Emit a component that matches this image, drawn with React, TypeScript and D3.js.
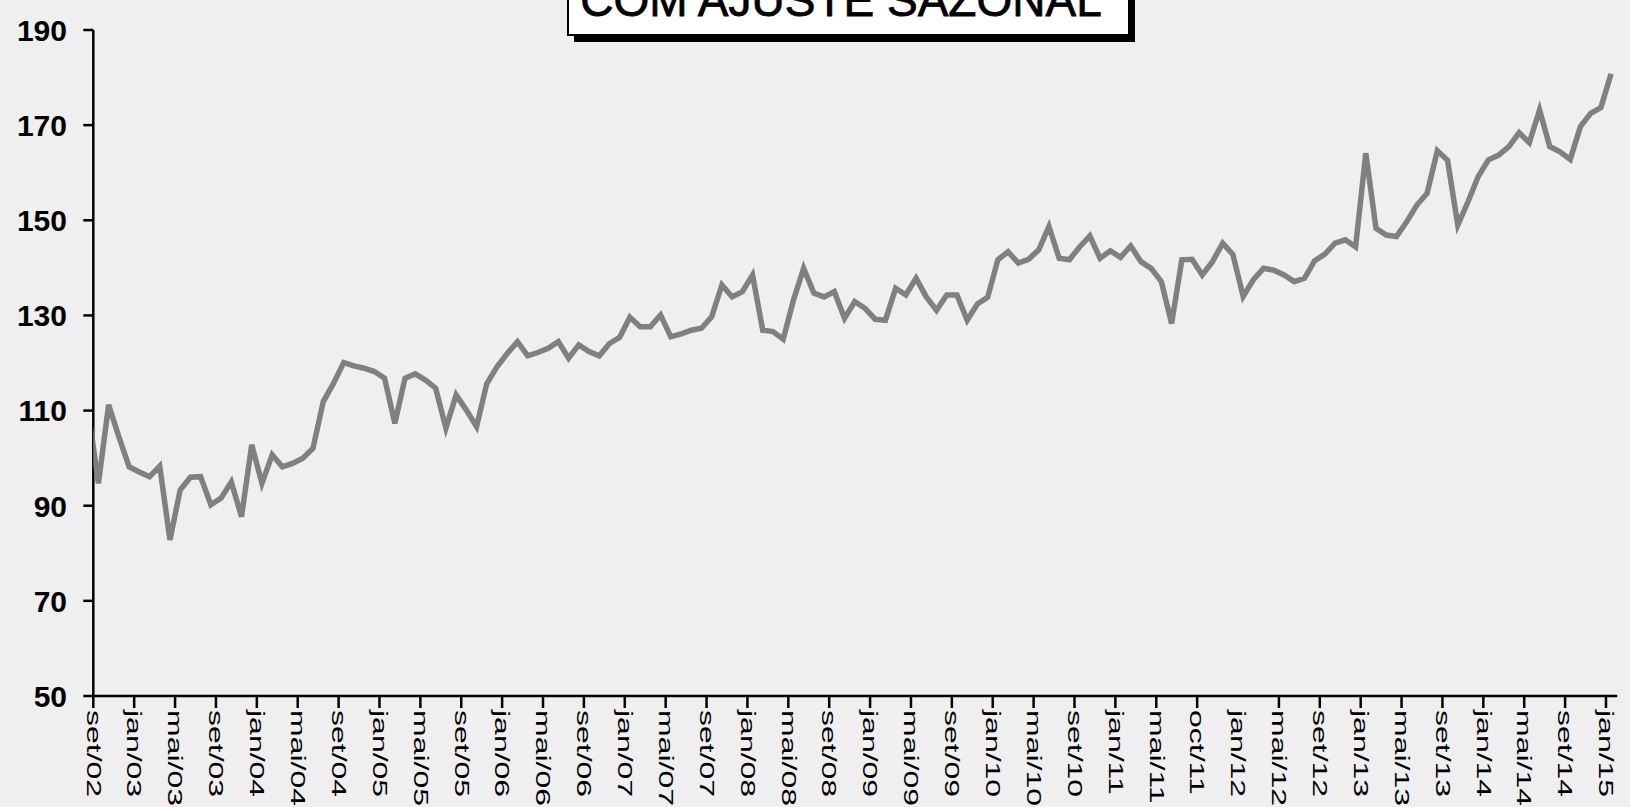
import React from "react";
import * as d3 from "d3";

// rótulos do eixo x (a cada 4 meses, set/02 .. jan/15)
const rotulos = [
  "set/02", "jan/03", "mai/03", "set/03", "jan/04", "mai/04", "set/04", "jan/05",
  "mai/05", "set/05", "jan/06", "mai/06", "set/06", "jan/07", "mai/07", "set/07",
  "jan/08", "mai/08", "set/08", "jan/09", "mai/09", "set/09", "jan/10", "mai/10",
  "set/10", "jan/11", "mai/11", "oct/11", "jan/12", "mai/12", "set/12", "jan/13",
  "mai/13", "set/13", "jan/14", "mai/14", "set/14", "jan/15",
];

// índice com ajuste sazonal, mensal de set/02 a jan/15
const valores = [
  94.7, 111.2, 104.5, 98.2, 97.1, 96.1, 98.3, 82.8, 93.3, 96.0,
  96.1, 90.2, 91.6, 95.0, 87.7, 102.8, 94.7, 100.7, 98.2, 98.9,
  100.0, 102.1, 111.9, 115.7, 120.1, 119.4, 118.9, 118.2, 116.8, 107.3,
  116.8, 117.7, 116.4, 114.7, 106.3, 113.3, 110.1, 106.6, 115.7, 119.2,
  122.0, 124.5, 121.5, 122.2, 123.1, 124.5, 121.0, 123.8, 122.4, 121.5,
  124.1, 125.4, 129.6, 127.6, 127.6, 130.1, 125.5, 126.1, 126.9, 127.3,
  129.7, 136.4, 133.9, 135.0, 138.5, 126.9, 126.6, 125.0, 133.2, 139.9,
  134.7, 133.9, 135.0, 129.4, 132.9, 131.5, 129.2, 129.0, 135.7, 134.3,
  137.8, 133.9, 131.1, 134.3, 134.3, 129.0, 132.4, 133.8, 141.7, 143.4,
  141.0, 141.8, 143.8, 148.7, 142.0, 141.7, 144.4, 146.7, 142.0, 143.6,
  142.2, 144.6, 141.3, 139.9, 137.1, 128.3, 141.7, 141.8, 138.5, 141.3,
  145.2, 142.8, 134.0, 137.5, 139.9, 139.5, 138.5, 137.1, 137.8, 141.5,
  142.9, 145.2, 145.9, 144.4, 164.1, 148.3, 146.9, 146.6, 149.7, 153.2,
  155.7, 164.6, 162.6, 149.0, 153.9, 159.2, 162.7, 163.7, 165.5, 168.4,
  166.3, 173.2, 165.5, 164.4, 162.8, 169.7, 172.5, 173.7, 180.8,
];

// ago/02, fica fora do eixo (cortado na borda)
const valorAnterior = 110;

const yTicks = [50, 70, 90, 110, 130, 150, 170, 190];

const W = 1630, H = 807;
const left = 93.3, right = 1616.2, top = 30, bottom = 696;
const font = "'Liberation Sans', Arial, sans-serif";

export default function App() {
  const n = valores.length;
  const x = d3.scaleLinear().domain([-0.5, n - 0.5]).range([left, right]);
  const y = d3.scaleLinear().domain([50, 190]).range([bottom, top]);

  const pts = [[-1, valorAnterior], ...valores.map((v, i) => [i, v])];
  const line = d3.line<number[]>()
    .x((d) => x(d[0]))
    .y((d) => y(d[1]));

  return (
    <div style={{ position: "fixed", left: 0, top: 0 }}>
      <svg width={W} height={H} style={{ display: "block" }}>
        <defs>
          <clipPath id="plot">
            <rect x={left} y={0} width={right - left} height={bottom} />
          </clipPath>
        </defs>
        <rect width={W} height={H} fill="#efefef" />

        {/* caixa do título */}
        <rect x={574} y={-10} width={561} height={52} fill="#000" />
        <rect x={568} y={-10} width={561} height={45} fill="#fff" stroke="#000" strokeWidth={2} />
        <text x={841} y={16} textAnchor="middle" fontFamily={font} fontSize={46}
          fill="#000" stroke="#000" strokeWidth={0.8}>
          COM AJUSTE SAZONAL
        </text>

        {/* eixo y */}
        <line x1={left} x2={left} y1={top} y2={bottom} stroke="#000" strokeWidth={2.5} />
        {yTicks.map((t) => (
          <g key={t}>
            <line x1={left - 10} x2={left} y1={y(t)} y2={y(t)} stroke="#000" strokeWidth={2.5} />
            <text x={67} y={y(t)} dy="0.36em" textAnchor="end" fontFamily={font}
              fontWeight="bold" fontSize={30} fill="#000">{t}</text>
          </g>
        ))}

        {/* eixo x */}
        <line x1={left} x2={right + 1} y1={bottom} y2={bottom} stroke="#000" strokeWidth={2.5} />
        {rotulos.map((r, k) => {
          const xt = x(k * 4 - 0.5);
          return (
            <g key={r + k}>
              {r !== "jan/12" && (
                <line x1={xt} x2={xt} y1={bottom} y2={bottom + 12} stroke="#000" strokeWidth={2.5} />
              )}
              <text transform={`translate(${xt},710) rotate(90) scale(1.6,1)`}
                dominantBaseline="central" fontFamily={font} fontSize={20} fill="#000">{r}</text>
            </g>
          );
        })}

        <path d={line(pts) || ""} fill="none" stroke="#808080" strokeWidth={5.5}
          strokeLinejoin="miter" clipPath="url(#plot)" />
      </svg>
    </div>
  );
}
